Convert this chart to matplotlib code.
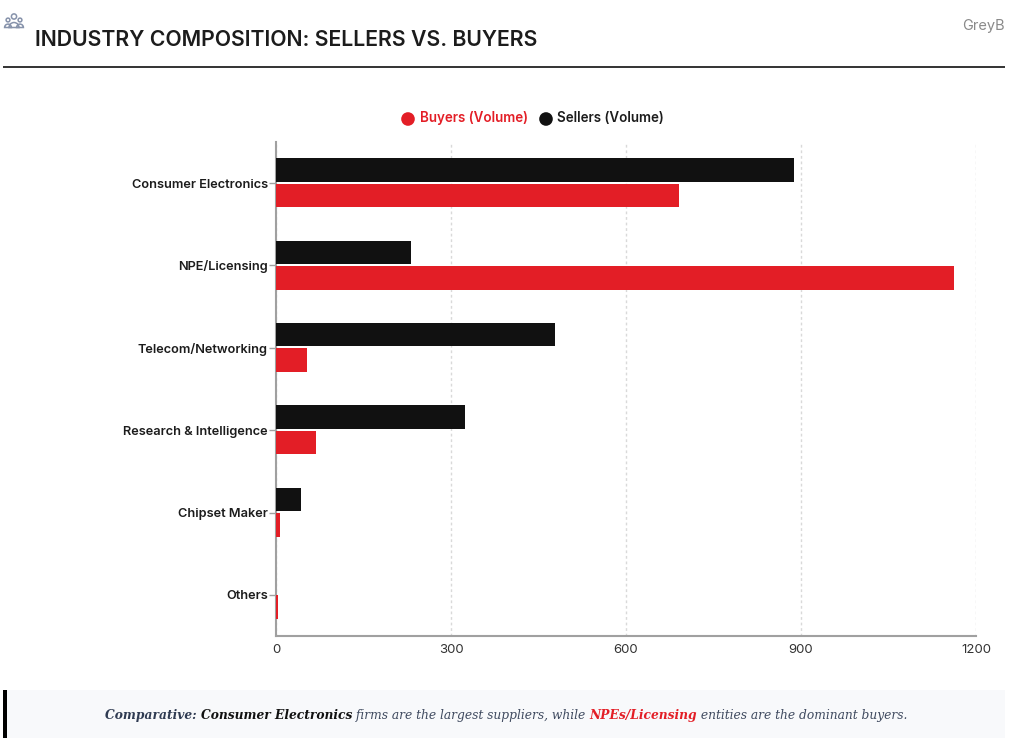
import matplotlib
matplotlib.use('Agg')
import matplotlib.pyplot as plt
from matplotlib.patches import Circle, Rectangle, Wedge

categories = ['Consumer Electronics', 'NPE/Licensing', 'Telecom/Networking',
              'Research & Intelligence', 'Chipset Maker', 'Others']
sellers = [888, 231, 478, 324, 43, 0]
buyers = [691, 1162, 53, 69, 7, 4]
xticks = [0, 300, 600, 900, 1200]

caption_parts = [
    ('Comparative: ', '#2f3b52', 'bold'),
    ('Consumer Electronics', '#111111', 'bold'),
    (' firms are the largest suppliers, while ', '#3f4a5f', 'normal'),
    ('NPEs/Licensing', '#e31e26', 'bold'),
    (' entities are the dominant buyers.', '#3f4a5f', 'normal'),
]

RED = '#e31e26'
BLACK = '#111111'
W, H = 1024, 749

plt.rcParams['font.family'] = 'Inter'

fig = plt.figure(figsize=(W / 100, H / 100), dpi=100, facecolor='white')

# full-figure overlay in pixel units for the header and footer furniture
bg = fig.add_axes([0, 0, 1, 1])
bg.set_xlim(0, W)
bg.set_ylim(H, 0)
bg.axis('off')

# header
bg.plot([3, 1005], [66.5, 66.5], color='#111111', lw=1.2, solid_capstyle='butt')
bg.text(35, 46, 'INDUSTRY COMPOSITION: SELLERS VS. BUYERS', fontsize=15.3, fontweight='semibold',
        color='#1c1c1c', va='baseline', ha='left')
bg.text(1005, 30, 'GreyB', fontsize=10.5, color='#8a8a8a', va='baseline', ha='right')

# people icon
icon = '#8793ab'
for cx, cy, r in [(14, 16.5, 2.6), (8, 20, 1.9), (20, 20, 1.9)]:
    bg.add_patch(Circle((cx, cy), r, fill=False, ec=icon, lw=1.1))
bg.add_patch(Wedge((14, 27.5), 5, 180, 360, fill=False, ec=icon, lw=1.1))
bg.add_patch(Wedge((8, 27.5), 3.4, 180, 360, fill=False, ec=icon, lw=1.1))
bg.add_patch(Wedge((20, 27.5), 3.4, 180, 360, fill=False, ec=icon, lw=1.1))

# legend
bg.add_patch(Circle((408, 119), 6.8, color=RED, lw=0))
bg.text(420, 122, 'Buyers (Volume)', fontsize=9.65, fontweight='semibold', color=RED)
bg.add_patch(Circle((546, 119), 6.8, color=BLACK, lw=0))
bg.text(557, 122, 'Sellers (Volume)', fontsize=9.65, fontweight='semibold', color='#1c1c1c')

# footer band
bg.add_patch(Rectangle((4, 690), 1001, 48, color='#f8f9fb', lw=0))
bg.add_patch(Rectangle((3, 690), 4, 48, color='black', lw=0))

# chart
ax = fig.add_axes([276 / W, 1 - 636 / H, 700 / W, (636 - 142) / H])
ax.patch.set_alpha(0)
y = list(range(len(categories)))
h = 0.285
ax.barh([i - 0.16 for i in y], sellers, height=h, color=BLACK, zorder=3)
ax.barh([i + 0.15 for i in y], buyers, height=h, color=RED, zorder=3)
ax.set_ylim(len(categories) - 0.5, -0.5)
ax.set_xlim(0, 1200)
ax.set_yticks(y)
ax.set_yticklabels(categories, fontsize=9.2, fontweight='semibold', color='#1c1c1c')
ax.set_xticks(xticks)
ax.tick_params(axis='x', length=0, labelsize=9.5, labelcolor='#333333', pad=6)
ax.tick_params(axis='y', length=5, width=1, color='#a0a0a0', pad=1)
ax.grid(axis='x', color='#d9d9d9', linestyle=(0, (2, 2)), lw=1, zorder=0)
ax.set_axisbelow(True)
for s in ['top', 'right']:
    ax.spines[s].set_visible(False)
for s in ['left', 'bottom']:
    ax.spines[s].set_color('#a0a0a0')
    ax.spines[s].set_linewidth(1.5)

# caption, set run by run so the colours can change mid-sentence
renderer = fig.canvas.get_renderer()
texts = [bg.text(0, 719, t.replace(' ', '\u00a0'), fontsize=8.87, family='DejaVu Serif',
                 style='italic', color=c, fontweight=w, va='baseline')
         for t, c, w in caption_parts]
widths = [t.get_window_extent(renderer).width for t in texts]
x = 103 + (806 - sum(widths)) / 2
for t, wd in zip(texts, widths):
    t.set_x(x)
    x += wd

fig.savefig('out.png', dpi=100)
